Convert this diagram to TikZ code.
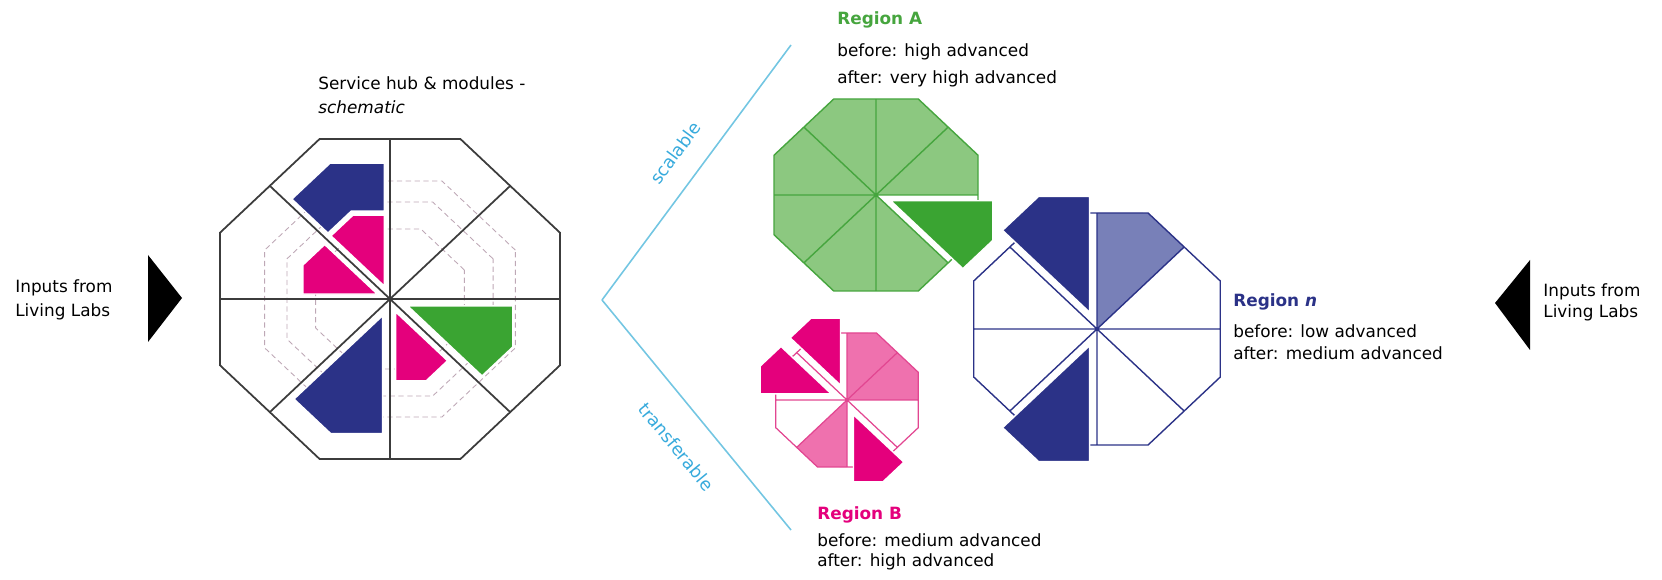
\documentclass[tikz,border=0pt]{standalone}
\usepackage{fontspec}
\setmainfont{DejaVu Sans}
\usetikzlibrary{positioning}

\definecolor{hubline}{RGB}{60,60,60}
\definecolor{hubdash}{RGB}{190,168,182}
\definecolor{navyblue}{RGB}{43,50,135}
\definecolor{midblue}{RGB}{120,128,184}
\definecolor{pinkdark}{RGB}{228,0,124}
\definecolor{pinklight}{RGB}{239,113,174}
\definecolor{pinkline}{RGB}{226,70,145}
\definecolor{greendark}{RGB}{58,164,50}
\definecolor{greenlight}{RGB}{140,200,128}
\definecolor{greenline}{RGB}{70,165,62}
\definecolor{skyline}{RGB}{115,198,226}
\definecolor{skytext}{RGB}{55,170,220}

% slice of an octagon: start angle, inner and outer apothem
\newcommand{\octslice}[3]{(#1:#2) -- (#1:#3) -- ({#1+22.5}:{1.0824*#3}) -- ({#1+45}:#3) -- ({#1+45}:#2) -- ({#1+22.5}:{1.0824*#2}) -- cycle}
% octagon outline and its spokes, apothem as argument
\newcommand{\octframe}[1]{(22.5:{1.0824*#1}) \foreach \a in {67.5,112.5,...,337.5} {-- (\a:{1.0824*#1})} -- cycle \foreach \a in {0,45,...,315} {(0,0) -- (\a:#1)}}

\begin{document}
\begin{tikzpicture}[x=0.02cm, y=-0.02cm,
  txt/.style={font=\fontsize{9.6}{13.6}\selectfont, inner sep=0pt, align=left, anchor=west},
  regtitle/.style={font=\fontsize{9.6}{13}\selectfont\bfseries, inner sep=0pt, anchor=west},
  hubframe/.style={draw=hubline, line width=1pt},
  hubring/.style={draw=hubdash, densely dashed, line width=0.5pt},
  piece/.style={draw=white, line width=0.8pt},
  octview/.style={xscale=1.0625, yscale=-1},
  vline/.style={draw=skyline, line width=0.9pt},
  vlabel/.style={sloped, text=skytext, inner sep=0pt, font=\fontsize{10}{12}\selectfont}]

  \useasboundingbox (0,0) rectangle (1662,580);

  % inputs from both sides
  \node[txt] (inleft) at (15,300) {Inputs from\\Living Labs};
  \fill (148,255) -- (182,298) -- (148,342) -- cycle;
  \node[txt, font=\fontsize{9.6}{12}\selectfont] (inright) at (1543,302) {Inputs from\\Living Labs};
  \fill (1530,260) -- (1495,303) -- (1530,350) -- cycle;

  % service hub
  \node[txt] (hubtitle) at (318,95) {Service hub \& modules -\\\textit{schematic}};
  \begin{scope}[shift={(390,299)}, octview]
    \foreach \r in {70,97,118}
      \draw[hubring] (22.5:{1.0824*\r}) \foreach \a in {67.5,112.5,...,337.5} {-- (\a:{1.0824*\r})} -- cycle;
    \fill[navyblue, piece, shift={(112.5:14)}] \octslice{90}{75}{123};
    \fill[pinkdark, piece, shift={(112.5:14)}] \octslice{90}{0}{71};
    \fill[pinkdark, piece, shift={(157.5:13)}] \octslice{135}{0}{70};
    \fill[navyblue, piece, shift={(247.5:18)}] \octslice{225}{0}{118};
    \fill[pinkdark, piece, shift={(292.5:14)}] \octslice{270}{0}{69};
    \fill[greendark, piece, shift={(-22.5:18)}] \octslice{-45}{0}{99};
    \draw[hubframe] \octframe{160};
  \end{scope}

  % scalable / transferable
  \coordinate (vtop) at (791,45);
  \coordinate (vtip) at (602,300);
  \coordinate (vbot) at (791,530);
  \draw[vline] (vtip) -- node[vlabel, above=12pt, pos=0.51] (scal) {scalable} (vtop);
  \draw[vline] (vtip) -- node[vlabel, below=16pt, pos=0.54] (transf) {transferable} (vbot);

  % region A
  \node[regtitle, text=greenline] (regA) at (837,20) {Region A};
  \node[txt, font=\fontsize{9.6}{15.3}\selectfont] (regAtext) at (837,65) {before: high advanced\\after: very high advanced};
  \begin{scope}[shift={(876,195)}, octview]
    \foreach \a in {0,45,...,270}
      \fill[greenlight] \octslice{\a}{0}{96};
    \draw[greenline, line width=0.8pt] \octframe{96};
    \fill[greendark, piece, shift={(-22.5:15)}] \octslice{-45}{0}{96};
  \end{scope}

  % region n
  \node[regtitle, text=navyblue] (regN) at (1233,302) {Region \textit{n}};
  \node[txt, font=\fontsize{9.6}{12.2}\selectfont] (regNtext) at (1233,342) {before: low advanced\\after: medium advanced};
  \begin{scope}[shift={(1097,329)}, octview]
    \fill[midblue] \octslice{45}{0}{116};
    \draw[navyblue, line width=0.8pt] \octframe{116};
    \fill[navyblue, piece, shift={(112.5:18)}] \octslice{90}{0}{116};
    \fill[navyblue, piece, shift={(247.5:18)}] \octslice{225}{0}{116};
  \end{scope}

  % region B
  \node[regtitle, text=pinkdark] (regB) at (817,515) {Region B};
  \node[txt, font=\fontsize{9.6}{11.4}\selectfont] (regBtext) at (817,552) {before: medium advanced\\after: high advanced};
  \begin{scope}[shift={(847,400)}, octview]
    \foreach \a in {0,45,225}
      \fill[pinklight] \octslice{\a}{0}{67};
    \draw[pinkline, line width=0.7pt] \octframe{67};
    \foreach \a in {90,135,270}
      \fill[pinkdark, piece, shift={({\a+22.5}:16)}] \octslice{\a}{0}{67};
  \end{scope}
\end{tikzpicture}
\end{document}
